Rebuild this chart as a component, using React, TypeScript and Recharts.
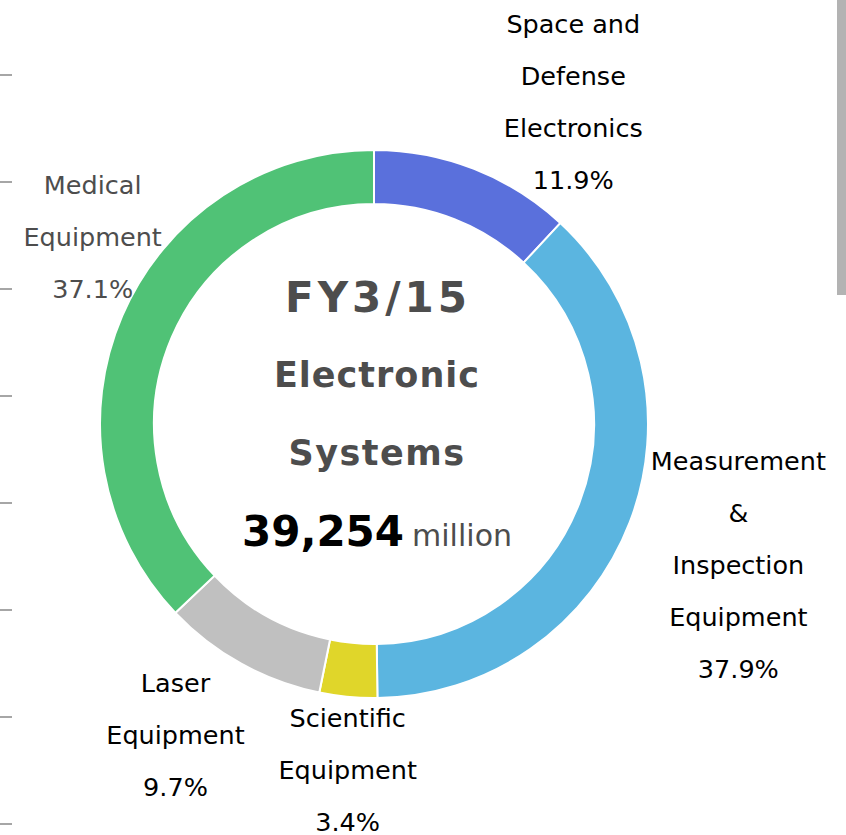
import { PieChart, Pie, Cell, Label } from 'recharts'

const segments = [
  'Space and Defense Electronics',
  'Measurement & Inspection Equipment',
  'Scientific Equipment',
  'Laser Equipment',
  'Medical Equipment',
]
const shares = [11.9, 37.9, 3.4, 9.7, 37.1]
const labelLines = [
  ['Space and', 'Defense', 'Electronics'],
  ['Measurement', '&', 'Inspection', 'Equipment'],
  ['Scientific', 'Equipment'],
  ['Laser', 'Equipment'],
  ['Medical', 'Equipment'],
]
const fiscalYear = 'FY3/15'
const segmentTitle = ['Electronic', 'Systems']
const totalSales = '39,254'
const unit = 'million'

const COLORS = ['#5a70dc', '#5bb5e0', '#e0d62a', '#c0c0c0', '#50c276']
const LABEL_COLORS = ['#000', '#000', '#000', '#000', '#4d4d4d']
// small hand nudges so labels sit where the original put them
const NUDGE: [number, number][] = [[70, 39], [34, -8], [7, -14], [-27, -6], [44, -44]]

const FONT = '"DejaVu Sans", Verdana, sans-serif'
const W = 846
const H = 835
const CX = 374
const CY = 424
const LINE_H = 52
const RAD = Math.PI / 180

const data = segments.map((name, i) => ({ name, value: shares[i] }))

function renderLabel(p: any) {
  const { cx, cy, midAngle, outerRadius, index } = p
  const lines = [...labelLines[index], `${shares[index].toFixed(1)}%`]
  const dx = Math.cos(-midAngle * RAD)
  const dy = Math.sin(-midAngle * RAD)
  const halfH = (lines.length * LINE_H) / 2
  const x = cx + (outerRadius + 10) * dx + dx * 70 + NUDGE[index][0]
  const y = cy + (outerRadius + 10) * dy + dy * halfH + NUDGE[index][1]
  const y0 = y - ((lines.length - 1) * LINE_H) / 2 + 9
  return (
    <text key={index} textAnchor="middle" fontFamily={FONT} fontSize={25.5} fill={LABEL_COLORS[index]}>
      {lines.map((l, i) => (
        <tspan key={i} x={x} y={y0 + i * LINE_H}>{l}</tspan>
      ))}
    </text>
  )
}

function CenterText(props: any) {
  const cx = props.viewBox?.cx ?? CX
  const cy = props.viewBox?.cy ?? CY
  return (
    <g fontFamily={FONT} textAnchor="middle">
      <text x={cx + 4} y={cy - 112} fontSize={42} fontWeight="bold" fill="#4d4d4d" letterSpacing={4}>{fiscalYear}</text>
      <text x={cx + 3} y={cy - 37} fontSize={35} fontWeight="bold" fill="#4d4d4d" letterSpacing={1}>{segmentTitle[0]}</text>
      <text x={cx + 3} y={cy + 41} fontSize={35} fontWeight="bold" fill="#4d4d4d" letterSpacing={1.5}>{segmentTitle[1]}</text>
      <text x={cx + 3} y={cy + 122}>
        <tspan fontSize={42} fontWeight="bold" fill="#000">{totalSales}</tspan>
        <tspan dx={8} fontSize={30} fill="#4d4d4d">{unit}</tspan>
      </text>
    </g>
  )
}

export default function App() {
  return (
    <div style={{ position: 'absolute', left: 0, top: 0, width: W, height: H, background: '#fff' }}>
      <PieChart width={W} height={H} margin={{ top: 0, right: 0, bottom: 0, left: 0 }}>
        <Pie
          data={data}
          dataKey="value"
          nameKey="name"
          cx={CX}
          cy={CY}
          innerRadius={220}
          outerRadius={274}
          startAngle={90}
          endAngle={-270}
          stroke="#fff"
          strokeWidth={2}
          label={renderLabel}
          labelLine={false}
          isAnimationActive={false}
        >
          {data.map((_, i) => (
            <Cell key={i} fill={COLORS[i]} />
          ))}
          <Label content={<CenterText />} position="center" />
        </Pie>
      </PieChart>
      <svg width={W} height={H} style={{ position: 'absolute', left: 0, top: 0, pointerEvents: 'none' }}>
        {Array.from({ length: 8 }, (_, i) => (
          <line key={i} x1={0} x2={12} y1={75 + i * 107} y2={75 + i * 107} stroke="#888" strokeWidth={1.5} />
        ))}
        <rect x={837} y={0} width={9} height={295} fill="#b3b3b3" />
      </svg>
    </div>
  )
}
